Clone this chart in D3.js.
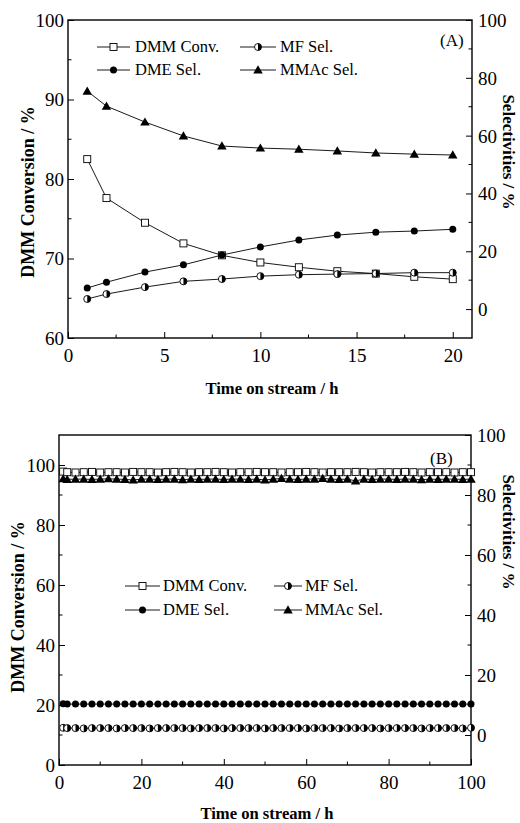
<!DOCTYPE html>
<html>
<head>
<meta charset="utf-8">
<script src="https://cdn.jsdelivr.net/npm/d3@7"></script>
<style>
body { margin: 0; background: #fff; }
svg { display: block; font-family: "Liberation Serif", "Times New Roman", Times, serif; }
</style>
</head>
<body>
<div id="chart"></div>
<script>
// panel A data
var timeA = [1, 2, 4, 6, 8, 10, 12, 14, 16, 18, 20];
var dmmConvA = [82.5, 77.6, 74.5, 71.9, 70.4, 69.5, 68.9, 68.4, 68.1, 67.7, 67.4];
var dmeSelA = [7.3, 9.3, 12.8, 15.3, 18.7, 21.5, 23.9, 25.6, 26.6, 27.0, 27.6];
var mfSelA = [3.5, 5.2, 7.6, 9.6, 10.4, 11.4, 11.9, 12.1, 12.3, 12.6, 12.6];
var mmacSelA = [75.4, 70.2, 64.7, 59.9, 56.4, 55.7, 55.3, 54.7, 54.0, 53.6, 53.3];

// panel B data
var timeB = [1, 2, 4, 6, 8, 10, 12, 14, 16, 18, 20, 22, 24, 26, 28, 30, 32, 34, 36, 38, 40,
	42, 44, 46, 48, 50, 52, 54, 56, 58, 60, 62, 64, 66, 68, 70, 72, 74, 76, 78, 80,
	82, 84, 86, 88, 90, 92, 94, 96, 98, 100];
var dmmConvB = [97.8, 97.6, 97.5, 97.6, 97.7, 97.5, 97.6, 97.6, 97.5, 97.7, 97.6, 97.6, 97.5, 97.6, 97.7, 97.6, 97.5, 97.6, 97.6, 97.7, 97.6,
	97.5, 97.6, 97.6, 97.7, 97.6, 97.6, 97.5, 97.6, 97.6, 97.7, 97.6, 97.5, 97.6, 97.6, 97.6, 97.7, 97.6, 97.5, 97.6, 97.6,
	97.6, 97.7, 97.6, 97.5, 97.6, 97.6, 97.6, 97.5, 97.6, 97.6];
var dmeSelB = [10.4, 10.3, 10.3, 10.3, 10.3, 10.3, 10.3, 10.3, 10.3, 10.3, 10.3, 10.3, 10.3, 10.3, 10.3, 10.3, 10.3, 10.3, 10.3, 10.3, 10.3,
	10.3, 10.3, 10.3, 10.3, 10.3, 10.3, 10.3, 10.3, 10.3, 10.3, 10.3, 10.3, 10.3, 10.3, 10.3, 10.3, 10.3, 10.3, 10.3, 10.3,
	10.3, 10.3, 10.3, 10.3, 10.3, 10.3, 10.3, 10.3, 10.3, 10.3];
var mfSelB = [2.4, 2.3, 2.3, 2.2, 2.3, 2.3, 2.3, 2.2, 2.3, 2.3, 2.3, 2.2, 2.3, 2.3, 2.3, 2.3, 2.2, 2.3, 2.3, 2.3, 2.2,
	2.3, 2.3, 2.3, 2.3, 2.2, 2.3, 2.3, 2.3, 2.3, 2.2, 2.3, 2.3, 2.3, 2.2, 2.3, 2.3, 2.3, 2.3, 2.2, 2.3,
	2.3, 2.3, 2.3, 2.2, 2.3, 2.3, 2.3, 2.3, 2.2, 2.4];
var mmacSelB = [85.4, 85.2, 85.3, 85.3, 85.2, 85.3, 85.4, 85.3, 85.2, 85.0, 85.3, 85.3, 85.2, 85.3, 85.3, 85.1, 85.3, 85.2, 85.3, 85.3, 85.2,
	85.3, 85.3, 85.2, 85.3, 85.0, 85.3, 85.5, 85.3, 85.2, 85.3, 85.3, 85.5, 85.3, 85.2, 85.3, 84.7, 85.3, 85.2, 85.3, 85.3,
	85.2, 85.3, 85.3, 85.1, 85.3, 85.2, 85.3, 85.3, 85.2, 85.3];

var legendLabels = ["DMM Conv.", "MF Sel.", "DME Sel.", "MMAc Sel."];
var xTitle = "Time on stream / h";
var yLeftTitle = "DMM Conversion / %";
var yRightTitle = "Selectivities / %";

var svg = d3.select("#chart").append("svg")
	.attr("width", 520)
	.attr("height", 823);

function marker(g, type, x, y, s) {
	if (type == "square") {
		g.append("rect")
			.attr("x", x - s / 2).attr("y", y - s / 2)
			.attr("width", s).attr("height", s)
			.attr("fill", "#fff").attr("stroke", "#000").attr("stroke-width", 0.9);
	} else if (type == "circle") {
		g.append("circle")
			.attr("cx", x).attr("cy", y).attr("r", s / 2)
			.attr("fill", "#000");
	} else if (type == "half") {
		var r = s / 2;
		g.append("circle")
			.attr("cx", x).attr("cy", y).attr("r", r)
			.attr("fill", "#fff").attr("stroke", "#000").attr("stroke-width", 0.9);
		g.append("path")
			.attr("d", "M" + x + "," + (y - r) + "A" + r + "," + r + " 0 0,1 " + x + "," + (y + r) + "Z")
			.attr("fill", "#000");
	} else {
		g.append("path")
			.attr("transform", "translate(" + x + "," + (y + 0.8) + ")")
			.attr("d", d3.symbol(d3.symbolTriangle, s * s * 0.48)())
			.attr("fill", "#000");
	}
}

function drawPanel(p) {
	var g = svg.append("g");
	var x = p.x, yL = p.yL, yR = p.yR;
	var x0 = x.range()[0], x1 = x.range()[1];
	var yb = yL.range()[0], yt = yL.range()[1];

	// minor ticks
	var minor = function(scale, vals, axisPos, dir, horiz) {
		vals.forEach(function(v) {
			var p0 = scale(v);
			if (horiz) {
				g.append("line").attr("x1", p0).attr("x2", p0)
					.attr("y1", axisPos).attr("y2", axisPos - dir * 3.5)
					.attr("stroke", "#000").attr("stroke-width", 1);
			} else {
				g.append("line").attr("y1", p0).attr("y2", p0)
					.attr("x1", axisPos).attr("x2", axisPos + dir * 3.5)
					.attr("stroke", "#000").attr("stroke-width", 1);
			}
		});
	};

	g.append("g")
		.attr("transform", "translate(0," + yb + ")")
		.call(d3.axisBottom(x).tickValues(p.xTicks).tickSize(-6).tickPadding(11).tickSizeOuter(0))
		.call(function(a) {
			a.select(".domain").remove();
			a.attr("font-family", null);
			a.selectAll("text").attr("font-size", p.fs);
		});
	g.append("g")
		.attr("transform", "translate(" + x0 + ",0)")
		.call(d3.axisLeft(yL).tickValues(p.yLTicks).tickSize(-6).tickPadding(4).tickSizeOuter(0))
		.call(function(a) {
			a.select(".domain").remove();
			a.attr("font-family", null);
			a.selectAll("text").attr("font-size", p.fs).attr("dy", "0.34em");
		});
	g.append("g")
		.attr("transform", "translate(" + x1 + ",0)")
		.call(d3.axisRight(yR).tickValues(p.yRTicks).tickSize(-6).tickPadding(6).tickSizeOuter(0))
		.call(function(a) {
			a.select(".domain").remove();
			a.attr("font-family", null);
			a.selectAll("text").attr("font-size", p.fs).attr("dy", "0.34em");
		});
	minor(x, p.xMinor, yb, 1, true);
	minor(yL, p.yLMinor, x0, 1, false);
	minor(yR, p.yRMinor, x1, -1, false);

	g.append("rect")
		.attr("x", x0).attr("y", yt)
		.attr("width", x1 - x0).attr("height", yb - yt)
		.attr("fill", "none").attr("stroke", "#000").attr("stroke-width", 1.4);

	p.series.forEach(function(s) {
		var ys = s.axis == "left" ? yL : yR;
		var pts = p.time.map(function(t, i) { return [x(t), ys(s.values[i])]; });
		g.append("path")
			.attr("d", d3.line()(pts))
			.attr("fill", "none").attr("stroke", "#000").attr("stroke-width", 0.9);
		var mg = g.append("g");
		pts.forEach(function(pt) { marker(mg, s.type, pt[0], pt[1], s.type == "triangle" ? p.ms + 2 : p.ms); });
	});

	// legend
	p.legend.forEach(function(l, i) {
		var lg = g.append("g");
		lg.append("line")
			.attr("x1", l.x1).attr("x2", l.x2).attr("y1", l.y).attr("y2", l.y)
			.attr("stroke", "#000").attr("stroke-width", 0.9);
		marker(lg, l.type, (l.x1 + l.x2) / 2, l.y, l.type == "triangle" ? p.ms + 2 : p.ms);
		lg.append("text")
			.attr("x", l.tx).attr("y", l.y).attr("dy", "0.33em")
			.attr("font-size", 16.5)
			.text(l.label);
	});

	g.append("text")
		.attr("x", p.tag[0]).attr("y", p.tag[1])
		.attr("font-size", 17)
		.text(p.tag[2]);

	g.append("text")
		.attr("x", (x0 + x1) / 2 + 2).attr("y", p.xTitleY)
		.attr("text-anchor", "middle").attr("font-weight", "bold").attr("font-size", 16.6)
		.text(xTitle);
	g.append("text")
		.attr("transform", "translate(" + p.yLTitle[0] + "," + p.yLTitle[1] + ") rotate(-90)")
		.attr("text-anchor", "middle").attr("font-weight", "bold").attr("font-size", 18)
		.text(yLeftTitle);
	g.append("text")
		.attr("transform", "translate(" + p.yRTitle[0] + "," + p.yRTitle[1] + ") rotate(90)")
		.attr("text-anchor", "middle").attr("font-weight", "bold").attr("font-size", 17)
		.text(yRightTitle);
}

drawPanel({
	x: d3.scaleLinear().domain([0, 21]).range([68, 472]),
	yL: d3.scaleLinear().domain([60, 100]).range([338, 20]),
	yR: d3.scaleLinear().domain([-10, 100]).range([338, 20]),
	xTicks: [0, 5, 10, 15, 20], xMinor: [2.5, 7.5, 12.5, 17.5],
	yLTicks: [60, 70, 80, 90, 100], yLMinor: [65, 75, 85, 95],
	yRTicks: [0, 20, 40, 60, 80, 100], yRMinor: [10, 30, 50, 70, 90],
	fs: 19, ms: 7,
	time: timeA,
	series: [
		{ values: dmmConvA, axis: "left", type: "square" },
		{ values: mfSelA, axis: "right", type: "half" },
		{ values: dmeSelA, axis: "right", type: "circle" },
		{ values: mmacSelA, axis: "right", type: "triangle" }
	],
	legend: [
		{ x1: 97, x2: 130, tx: 135, y: 47, type: "square", label: legendLabels[0] },
		{ x1: 240, x2: 276, tx: 280, y: 47, type: "half", label: legendLabels[1] },
		{ x1: 97, x2: 130, tx: 135, y: 70, type: "circle", label: legendLabels[2] },
		{ x1: 240, x2: 276, tx: 280, y: 70, type: "triangle", label: legendLabels[3] }
	],
	tag: [440, 46, "(A)"],
	xTitleY: 394,
	yLTitle: [34, 192],
	yRTitle: [503, 152]
});

drawPanel({
	x: d3.scaleLinear().domain([0, 100]).range([59, 471]),
	yL: d3.scaleLinear().domain([0, 110]).range([765, 435]),
	yR: d3.scaleLinear().domain([-10, 100]).range([765, 435]),
	xTicks: [0, 20, 40, 60, 80, 100], xMinor: [10, 30, 50, 70, 90],
	yLTicks: [0, 20, 40, 60, 80, 100], yLMinor: [10, 30, 50, 70, 90],
	yRTicks: [0, 20, 40, 60, 80, 100], yRMinor: [10, 30, 50, 70, 90],
	fs: 19, ms: 7,
	time: timeB,
	series: [
		{ values: dmmConvB, axis: "left", type: "square" },
		{ values: mfSelB, axis: "right", type: "half" },
		{ values: dmeSelB, axis: "right", type: "circle" },
		{ values: mmacSelB, axis: "right", type: "triangle" }
	],
	legend: [
		{ x1: 125, x2: 160, tx: 163, y: 586, type: "square", label: legendLabels[0] },
		{ x1: 274, x2: 302, tx: 305, y: 586, type: "half", label: legendLabels[1] },
		{ x1: 125, x2: 160, tx: 163, y: 610, type: "circle", label: legendLabels[2] },
		{ x1: 274, x2: 302, tx: 305, y: 610, type: "triangle", label: legendLabels[3] }
	],
	tag: [430, 464, "(B)"],
	xTitleY: 819,
	yLTitle: [24, 607],
	yRTitle: [503, 532]
});
</script>
</body>
</html>
